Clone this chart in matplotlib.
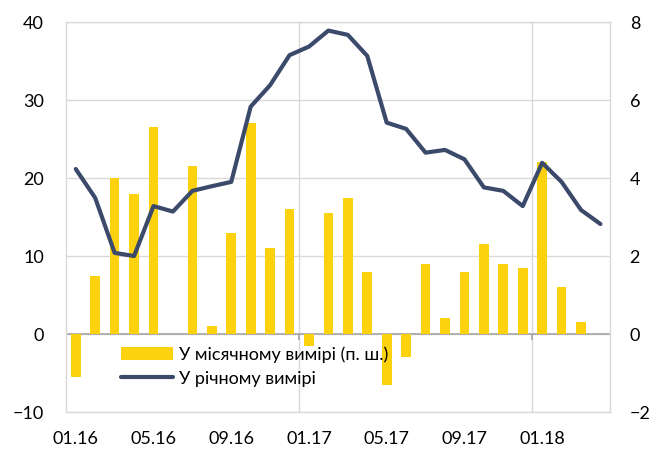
import matplotlib
matplotlib.use("Agg")
import matplotlib.pyplot as plt
import numpy as np

plt.rcParams['font.family'] = ['Lato', 'DejaVu Sans']

months = ["01.16", "02.16", "03.16", "04.16", "05.16", "06.16", "07.16", "08.16",
          "09.16", "10.16", "11.16", "12.16", "01.17", "02.17", "03.17", "04.17",
          "05.17", "06.17", "07.17", "08.17", "09.17", "10.17", "11.17", "12.17",
          "01.18", "02.18", "03.18", "04.18"]
monthly = [-5.5, 7.5, 20, 18, 26.5, 0, 21.5, 1, 13, 27, 11, 16,
           -1.5, 15.5, 17.5, 8, -6.5, -3, 9, 2, 8, 11.5, 9, 8.5,
           22, 6, 1.5, 0]
annual = [4.23, 3.49, 2.08, 2.0, 3.28, 3.14, 3.67, 3.79, 3.9, 5.83, 6.38, 7.15,
          7.37, 7.78, 7.67, 7.13, 5.42, 5.26, 4.65, 4.72, 4.48, 3.76, 3.67, 3.28,
          4.39, 3.9, 3.18, 2.82]
label_bars = "У місячному вимірі (п. ш.)"
label_line = "У річному вимірі"

BAR = "#FCD20F"
LINE = "#3B4A6B"
GRID = "#D9D9D9"

fig = plt.figure(figsize=(6.54, 4.5), dpi=100)
ax = fig.add_axes([0.101, 0.0844, 0.832, 0.8667])
x = np.arange(len(months))

ax.set_xlim(-0.5, len(months) - 0.5)
ax.set_ylim(-10, 40)
ax.set_yticks(np.arange(-10, 41, 10))
ax.yaxis.grid(True, color=GRID, lw=1)
ax.set_axisbelow(True)
for xv in [11.5, 23.5]:
    ax.axvline(xv, color=GRID, lw=1, zorder=0)
ax.axhline(0, color="#A6A6A6", lw=1.2, zorder=1)
ax.vlines([-0.5, 11.5, 23.5], -0.8, 0, color="#A6A6A6", lw=1.2, zorder=1)

bars = ax.bar(x, monthly, width=0.5, color=BAR, zorder=2, label=label_bars)

for s in ax.spines.values():
    s.set_color(GRID)
    s.set_linewidth(1)

ax.set_xticks(x[::4])
ax.set_xticklabels(months[::4])
ax.tick_params(axis='both', length=0, labelsize=13, colors='black')
ax.tick_params(axis='y', pad=16)
ax.tick_params(axis='x', pad=14)

ax2 = ax.twinx()
ax2.set_ylim(-2, 8)
ax2.set_yticks(np.arange(-2, 9, 2))
ax2.tick_params(axis='y', length=0, labelsize=13, pad=14)
for s in ax2.spines.values():
    s.set_visible(False)
line, = ax2.plot(x, annual, color=LINE, lw=3, solid_joinstyle='round',
                 solid_capstyle='round', label=label_line, zorder=3)

leg = ax2.legend([bars, line], [label_bars, label_line], loc='upper left',
                 bbox_to_anchor=(0.101, 0.169), frameon=False, fontsize=13,
                 borderaxespad=0, borderpad=0, handlelength=2.9,
                 handletextpad=0.3, labelspacing=0.45)

fig.savefig("out.png", dpi=100)
